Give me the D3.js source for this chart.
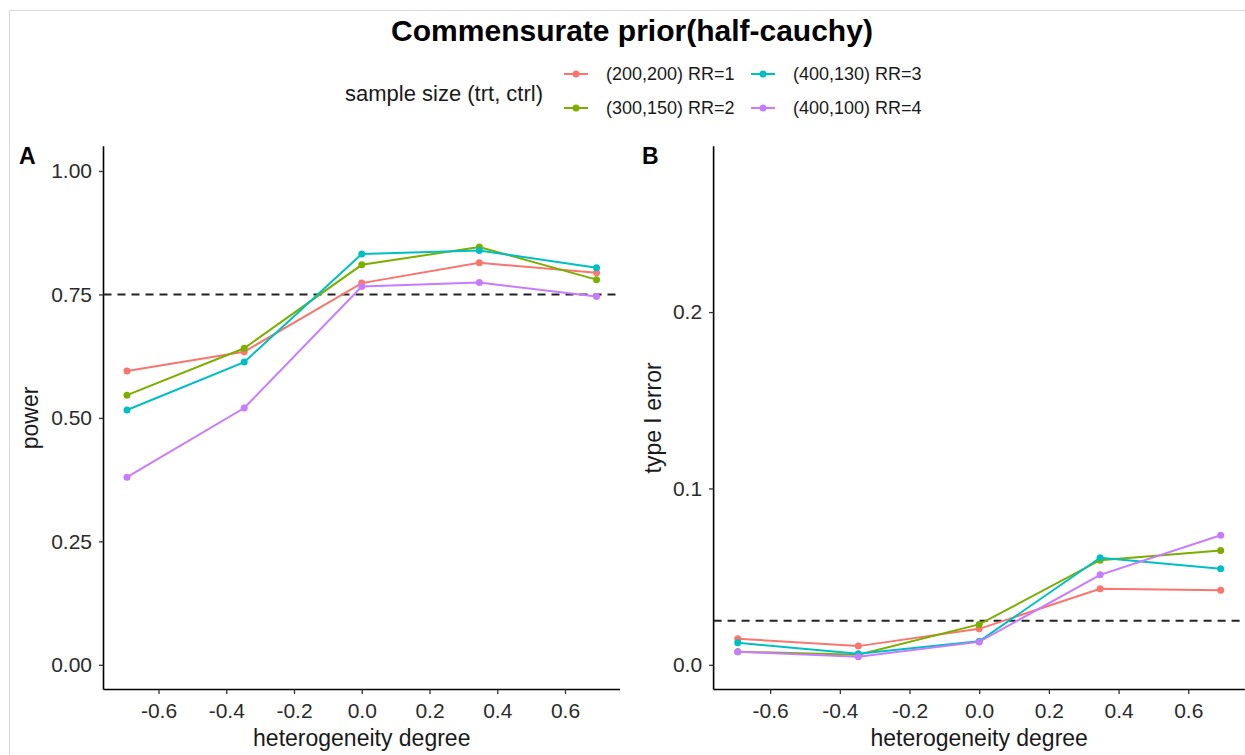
<!DOCTYPE html>
<html>
<head>
<meta charset="utf-8">
<script src="https://cdn.jsdelivr.net/npm/d3@7"></script>
<style>
  html, body { margin: 0; padding: 0; background: #fff; }
  svg { display: block; font-family: "Liberation Sans", Arial, sans-serif; }
</style>
</head>
<body>
<svg id="chart" width="1245" height="755"></svg>
<script>
// ---------------- data ----------------
const heterogeneity = [-0.693, -0.347, 0, 0.347, 0.693];
const seriesNames = ["(200,200) RR=1", "(300,150) RR=2", "(400,130) RR=3", "(400,100) RR=4"];
const seriesColors = ["#F8766D", "#7CAE00", "#00BFC4", "#C77CFF"];

const powerRR1 = [0.595, 0.634, 0.773, 0.814, 0.794];
const powerRR2 = [0.546, 0.641, 0.810, 0.846, 0.780];
const powerRR3 = [0.516, 0.613, 0.832, 0.839, 0.804];
const powerRR4 = [0.380, 0.520, 0.766, 0.774, 0.746];

const type1RR1 = [0.0148, 0.0106, 0.0204, 0.0431, 0.0423];
const type1RR2 = [0.0074, 0.0057, 0.0229, 0.0593, 0.0648];
const type1RR3 = [0.0125, 0.0063, 0.0133, 0.0607, 0.0544];
const type1RR4 = [0.0074, 0.0046, 0.0130, 0.0510, 0.0735];

const xTicks = [-0.6, -0.4, -0.2, 0.0, 0.2, 0.4, 0.6];
const powerTicks = [0, 0.25, 0.5, 0.75, 1.0];
const type1Ticks = [0, 0.1, 0.2];
const powerLimits = [0, 1];
const type1Limits = [0, 0.28];
const powerTarget = 0.75;
const type1Target = 0.025;

// ---------------- drawing ----------------
const svg = d3.select("#chart");
svg.append("rect").attr("width", 1245).attr("height", 755).attr("fill", "#fff");

// light frame
svg.append("line").attr("x1", 9).attr("x2", 1245).attr("y1", 10.5).attr("y2", 10.5)
  .attr("stroke", "#d9d9d9").attr("stroke-width", 1);
svg.append("line").attr("x1", 9.5).attr("x2", 9.5).attr("y1", 10).attr("y2", 755)
  .attr("stroke", "#d9d9d9").attr("stroke-width", 1);

// title
svg.append("text").attr("x", 632).attr("y", 41).attr("text-anchor", "middle")
  .attr("font-weight", "bold").attr("font-size", 30).attr("fill", "#000")
  .text("Commensurate prior(half-cauchy)");

// legend
const legend = svg.append("g");
legend.append("text").attr("x", 345).attr("y", 93).attr("dy", "0.35em")
  .attr("font-size", 22).attr("fill", "#1a1a1a").text("sample size (trt, ctrl)");
const legendCols = [564, 751];
const legendRows = [74, 108];
seriesNames.forEach((name, i) => {
  const col = Math.floor(i / 2), row = i % 2;
  const x0 = legendCols[col], y0 = legendRows[row];
  const g = legend.append("g");
  g.append("line").attr("x1", x0).attr("x2", x0 + 24).attr("y1", y0).attr("y2", y0)
    .attr("stroke", seriesColors[i]).attr("stroke-width", 2);
  g.append("circle").attr("cx", x0 + 12).attr("cy", y0).attr("r", 3.5).attr("fill", seriesColors[i]);
  g.append("text").attr("x", x0 + 42).attr("y", y0).attr("dy", "0.35em")
    .attr("font-size", 18).attr("fill", "#1a1a1a").text(name);
});

function expand(lim) {
  const d = (lim[1] - lim[0]) * 0.05;
  return [lim[0] - d, lim[1] + d];
}
function hyphenFormat(spec) {
  const f = d3.format(spec);
  return v => f(v).replace("\u2212", "-");
}

function panel(opts) {
  const xDom = expand(d3.extent(heterogeneity));
  const x = d3.scaleLinear().domain(xDom).range([opts.left, opts.right]);
  const y = d3.scaleLinear().domain(expand(opts.limits)).range([opts.bottom, opts.top]);
  const g = svg.append("g");

  // axes
  const xAxis = d3.axisBottom(x).tickValues(xTicks).tickFormat(hyphenFormat(".1f"))
    .tickSize(4.5).tickPadding(9).tickSizeOuter(0);
  const gx = g.append("g").attr("transform", `translate(0,${opts.bottom})`).call(xAxis);
  const yAxis = d3.axisLeft(y).tickValues(opts.ticks).tickFormat(hyphenFormat(opts.fmt))
    .tickSize(4.5).tickPadding(7).tickSizeOuter(0);
  const gy = g.append("g").attr("transform", `translate(${opts.left},0)`).call(yAxis);
  [gx, gy].forEach(a => {
    a.select(".domain").attr("stroke", "#000").attr("stroke-width", 1.6);
    a.selectAll(".tick line").attr("stroke", "#333").attr("stroke-width", 1.3);
    a.selectAll(".tick text").attr("font-size", 21).attr("fill", "#2b2b2b")
      .attr("font-family", "'Liberation Sans', Arial, sans-serif");
  });
  gx.select(".domain").attr("d", `M${opts.left},0H${opts.right}`);
  gy.select(".domain").attr("d", `M0,${opts.bottom}V${opts.top}`);

  // reference line
  g.append("line").attr("x1", opts.left).attr("x2", opts.right)
    .attr("y1", y(opts.target)).attr("y2", y(opts.target))
    .attr("stroke", "#222").attr("stroke-width", 2).attr("stroke-dasharray", "8,6");

  // lines then points
  const line = d3.line().x((d, i) => x(heterogeneity[i])).y(d => y(d));
  opts.series.forEach((s, k) => {
    g.append("path").datum(s).attr("d", line).attr("fill", "none")
      .attr("stroke", seriesColors[k]).attr("stroke-width", 2);
  });
  opts.series.forEach((s, k) => {
    g.selectAll(null).data(s).enter().append("circle")
      .attr("cx", (d, i) => x(heterogeneity[i])).attr("cy", d => y(d))
      .attr("r", 3.5).attr("fill", seriesColors[k]);
  });

  // axis titles
  g.append("text").attr("x", (opts.left + opts.right) / 2).attr("y", 746)
    .attr("text-anchor", "middle").attr("font-size", 23).attr("fill", "#1a1a1a")
    .text("heterogeneity degree");
  g.append("text").attr("transform", `translate(${opts.ytitleX},${(opts.top + opts.bottom) / 2}) rotate(-90)`)
    .attr("text-anchor", "middle").attr("font-size", 23).attr("fill", "#1a1a1a")
    .text(opts.ytitle);

  // tag
  g.append("text").attr("x", opts.tagX).attr("y", 164).attr("font-weight", "bold")
    .attr("font-size", 23).attr("fill", "#000").text(opts.tag);
}

panel({
  left: 103.5, right: 620, top: 146.3, bottom: 689.5,
  limits: powerLimits, ticks: powerTicks, fmt: ".2f", target: powerTarget,
  series: [powerRR1, powerRR2, powerRR3, powerRR4],
  ytitle: "power", ytitleX: 38, tag: "A", tagX: 19
});
panel({
  left: 713.6, right: 1244.8, top: 146.3, bottom: 689.5,
  limits: type1Limits, ticks: type1Ticks, fmt: ".1f", target: type1Target,
  series: [type1RR1, type1RR2, type1RR3, type1RR4],
  ytitle: "type I error", ytitleX: 661, tag: "B", tagX: 642
});
</script>
</body>
</html>
